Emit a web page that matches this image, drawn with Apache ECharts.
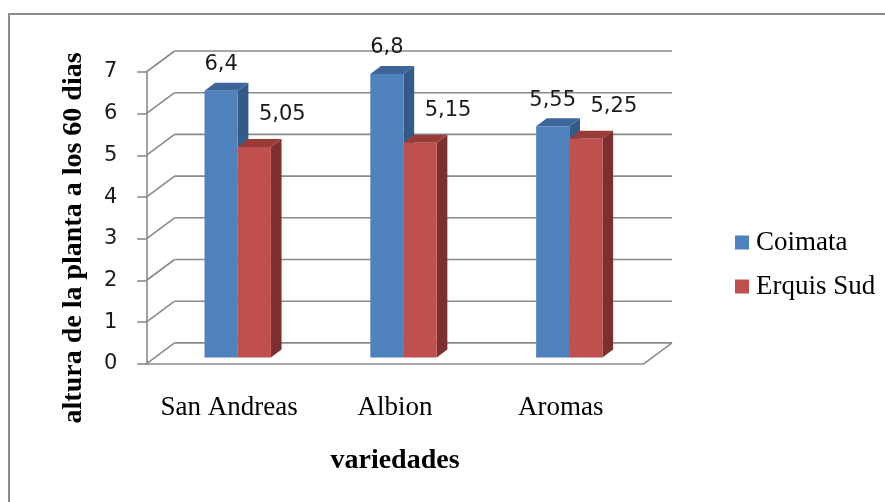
<!DOCTYPE html>
<html>
<head>
<meta charset="utf-8">
<script src="https://cdn.jsdelivr.net/npm/echarts@6/dist/echarts.min.js"></script>
<style>
  html, body { margin: 0; padding: 0; background: #fff; }
  #chart { width: 885px; height: 502px; }
</style>
</head>
<body>
<div id="chart"></div>
<script>
// Plant height after 60 days, by variety
const categories = ['San Andreas', 'Albion', 'Aromas'];
const coimata = [6.4, 6.8, 5.55];
const erquisSud = [5.05, 5.15, 5.25];
const yTicks = [0, 1, 2, 3, 4, 5, 6, 7];

// Oblique 3D projection: floor depth vector (front -> back wall), in pixels
const DEPTH = [28.3, -21];
const BAR_FRONT = 0.3;          // bars start 30% into the floor depth
const BAR_SIDE = [10.7, -8];    // thickness of each bar in depth
const BAR_FRAC = 0.2;           // bar width as fraction of category band

const GRID_COLOR = '#8a8a8a';
const FACE = [
  { front: '#4F81BD', side: '#345A88', top: '#3D659A' },
  { front: '#C0504D', side: '#7B302F', top: '#9B3B39' }
];
const LABEL_SHIFT = [[0, -26], [28, -32]];

const fmt = v => String(v).replace('.', ',');

function renderWalls(params, api) {
  const cs = params.coordSys;
  const v = api.value(1);
  const y = api.coord([0, v])[1];
  const left = cs.x, right = cs.x + cs.width;
  const dx = DEPTH[0], dy = DEPTH[1];
  const style = { stroke: GRID_COLOR, lineWidth: 1.6 };
  const children = [
    { type: 'line', shape: { x1: left + dx, y1: y + dy, x2: right + dx, y2: y + dy }, style },
    { type: 'line', shape: { x1: left, y1: y, x2: left + dx, y2: y + dy }, style }
  ];
  if (v === 0) {
    children.push({ type: 'line', shape: { x1: right, y1: y, x2: right + dx, y2: y + dy }, style });
  }
  return { type: 'group', children };
}

function makeBarRenderer(idx) {
  return function (params, api) {
    const cat = api.value(0);
    const val = api.value(1);
    const base = api.coord([cat, 0]);
    const top = api.coord([cat, val]);
    const band = api.size([1, 0])[0];
    const w = band * BAR_FRAC;
    const fx = DEPTH[0] * BAR_FRONT, fy = DEPTH[1] * BAR_FRONT;
    const x0 = base[0] + (idx === 0 ? -w : 0) + fx;
    const x1 = x0 + w;
    const yb = base[1] + fy;
    const yt = top[1] + fy;
    const sx = BAR_SIDE[0], sy = BAR_SIDE[1];
    const c = FACE[idx];
    return {
      type: 'group',
      children: [
        { type: 'polygon', shape: { points: [[x1, yt], [x1 + sx, yt + sy], [x1 + sx, yb + sy], [x1, yb]] },
          style: { fill: c.side } },
        { type: 'polygon', shape: { points: [[x0, yt], [x0 + sx, yt + sy], [x1 + sx, yt + sy], [x1, yt]] },
          style: { fill: c.top } },
        { type: 'rect', shape: { x: x0, y: yt, width: w, height: yb - yt },
          style: { fill: c.front } },
        { type: 'text',
          style: {
            text: fmt(val),
            x: (x0 + x1) / 2 + LABEL_SHIFT[idx][0],
            y: yt + LABEL_SHIFT[idx][1],
            align: 'center', verticalAlign: 'middle',
            fontFamily: 'DejaVu Sans', fontSize: 21, fill: '#1a1a1a'
          } }
      ]
    };
  };
}

const chart = echarts.init(document.getElementById('chart'), null, { renderer: 'canvas' });

chart.setOption({
  backgroundColor: '#ffffff',
  animation: false,
  graphic: [
    { type: 'rect', shape: { x: 9, y: 14, width: 1000, height: 1000 },
      style: { fill: 'none', stroke: '#8c8c8c', lineWidth: 2 }, silent: true, z: -10 }
  ],
  grid: { left: 146.3, right: 241.3, top: 72, bottom: 138.1, containLabel: false },
  legend: {
    orient: 'vertical',
    left: 730, top: 224,
    itemWidth: 14, itemHeight: 14, itemGap: 17,
    icon: 'rect',
    data: ['Coimata', 'Erquis Sud'],
    textStyle: { fontFamily: 'Liberation Serif', fontSize: 27, color: '#000', padding: [0, 0, 0, 2] }
  },
  xAxis: {
    type: 'category',
    data: categories,
    boundaryGap: true,
    name: 'variedades',
    nameLocation: 'middle',
    nameGap: 83,
    nameTextStyle: { fontFamily: 'Liberation Serif', fontWeight: 'bold', fontSize: 28, color: '#000' },
    axisLine: { show: true, lineStyle: { color: GRID_COLOR, width: 1.6 } },
    axisTick: { show: false },
    axisLabel: { interval: 0, margin: 31, fontFamily: 'Liberation Serif', fontSize: 27, color: '#000' },
    splitLine: { show: false }
  },
  yAxis: {
    type: 'value',
    min: 0, max: 7, interval: 1,
    name: 'altura de la planta a los 60 dias',
    nameLocation: 'middle',
    nameGap: 59,
    nameTextStyle: { fontFamily: 'Liberation Serif', fontWeight: 'bold', fontSize: 28, color: '#000', padding: [0, 40, 0, 0] },
    axisLine: { show: true, lineStyle: { color: GRID_COLOR, width: 1.6 } },
    axisTick: { show: true, inside: false, length: 9, lineStyle: { color: GRID_COLOR, width: 1.6 } },
    axisLabel: { margin: 29, fontFamily: 'DejaVu Sans', fontSize: 21, color: '#1a1a1a', padding: [4, 0, 0, 0] },
    splitLine: { show: false }
  },
  series: [
    {
      type: 'custom', name: 'walls', silent: true, z: 1,
      renderItem: renderWalls,
      data: yTicks.map(v => [0, v])
    },
    {
      type: 'custom', name: 'Coimata', z: 2,
      color: FACE[0].front, itemStyle: { color: FACE[0].front },
      renderItem: makeBarRenderer(0),
      data: coimata.map((v, i) => [i, v])
    },
    {
      type: 'custom', name: 'Erquis Sud', z: 3,
      color: FACE[1].front, itemStyle: { color: FACE[1].front },
      renderItem: makeBarRenderer(1),
      data: erquisSud.map((v, i) => [i, v])
    }
  ]
});
</script>
</body>
</html>
